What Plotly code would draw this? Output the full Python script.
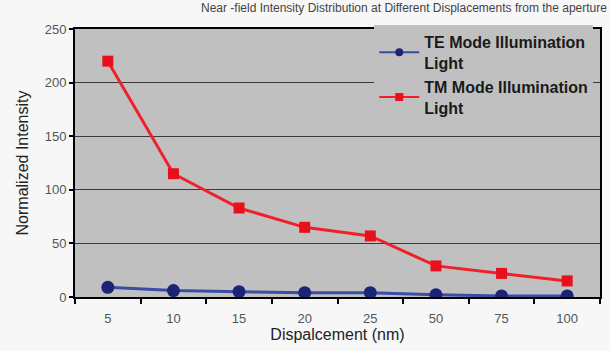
import plotly.graph_objects as go

categories = ["5", "10", "15", "20", "25", "50", "75", "100"]
te_values = [9, 6, 5, 4, 4, 2, 1, 1]
tm_values = [220, 115, 83, 65, 57, 29, 22, 15]
y_ticks = [0, 50, 100, 150, 200, 250]
te_name = "TE Mode Illumination<br>Light"
tm_name = "TM Mode Illumination<br>Light"

fig = go.Figure()
fig.add_trace(go.Scatter(
    x=categories, y=te_values, mode="lines+markers",
    name=te_name, showlegend=False, legendgroup="te",
    line=dict(color="#3a4ca6", width=3),
    marker=dict(symbol="circle", size=13, color="#1c2475"),
))
fig.add_trace(go.Scatter(
    x=categories, y=tm_values, mode="lines+markers",
    name=tm_name, showlegend=False, legendgroup="tm",
    line=dict(color="#f0202a", width=3),
    marker=dict(symbol="square", size=11, color="#e8101c"),
))
# legend-only entries (thinner line and smaller markers, as in the original legend)
fig.add_trace(go.Scatter(
    x=[None], y=[None], mode="lines+markers", name=te_name, legendgroup="te",
    line=dict(color="#3a4ca6", width=2),
    marker=dict(symbol="circle", size=8, color="#1c2475"),
))
fig.add_trace(go.Scatter(
    x=[None], y=[None], mode="lines+markers", name=tm_name, legendgroup="tm",
    line=dict(color="#f0202a", width=2),
    marker=dict(symbol="square", size=8, color="#e8101c"),
))

fig.update_layout(
    width=610, height=351,
    margin=dict(l=75, r=8, t=29, b=54),
    paper_bgcolor="#f7f7f7",
    plot_bgcolor="#c0c0c0",
    font=dict(family="Liberation Sans, Arial, sans-serif", color="#333333"),
    title=dict(
        text="Near -field Intensity Distribution at Different Displacements from the aperture",
        font=dict(size=12, color="#444444"),
        x=0.995, xanchor="right", y=0.99, yanchor="top",
    ),
    showlegend=True,
    legend=dict(
        x=0.57, y=1.015, xanchor="left", yanchor="top",
        bgcolor="#c0c0c0",
        font=dict(size=16, color="#1a1a1a", weight="bold"),
        tracegroupgap=0,
        itemwidth=40,
    ),
    xaxis=dict(
        type="category",
        title=dict(text="Dispalcement (nm)", font=dict(size=16, color="#222222"), standoff=4),
        tickfont=dict(size=13, color="#555555"),
        ticklabelstandoff=8,
        showline=True, linecolor="black", linewidth=2,
        mirror=True,
        ticks="outside", tickson="boundaries", ticklen=5, tickcolor="black", tickwidth=2,
        showgrid=False,
        range=[-0.5, 7.5],
    ),
    yaxis=dict(
        title=dict(text="Normalized Intensity", font=dict(size=16, color="#222222"), standoff=12),
        tickfont=dict(size=13, color="#555555"),
        tickvals=y_ticks,
        range=[0, 250],
        showline=True, linecolor="black", linewidth=2,
        mirror=True,
        ticks="outside", ticklen=4, tickcolor="black", tickwidth=1.5,
        showgrid=True, gridcolor="#3a3a3a", gridwidth=1,
        zeroline=False,
    ),
)

fig.write_html("out.html")
